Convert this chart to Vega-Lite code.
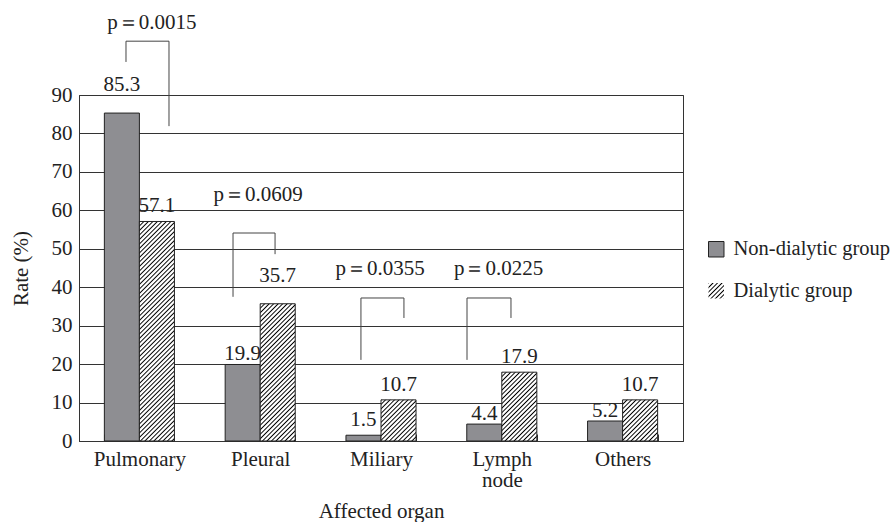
{
"$schema":"https://vega.github.io/schema/vega-lite/v6.json",
"width":604,"height":346,
"autosize":"none",
"padding":{"left":79,"top":95,"right":210,"bottom":81},
"background":"white",
"config":{"font":"Liberation Serif, Times New Roman, serif","view":{"stroke":"#333","strokeWidth":1},
 "axis":{"labelFont":"Liberation Serif, Times New Roman, serif","labelFontSize":21,"labelColor":"#222","titleFont":"Liberation Serif, Times New Roman, serif","titleFontSize":21,"titleFontWeight":"normal","titleColor":"#222","domainColor":"#333","tickColor":"#333"},
 "axisY":{"tickCount":10,"ticks":false,"tickSize":0,"labelPadding":7,"grid":true,"gridColor":"#333","gridOpacity":1,"titlePadding":20},
 "legend":{"labelFont":"Liberation Serif, Times New Roman, serif","labelFontSize":20.5,"labelColor":"#222","symbolType":"square","symbolSize":240,"symbolStrokeColor":"#222","symbolStrokeWidth":1,"labelOffset":7,"labelLimit":300,"orient":"none"}},
"datasets":{
 "rates":[
  {"organ":"Pulmonary","group":"Non-dialytic group","rate":85.3},
  {"organ":"Pulmonary","group":"Dialytic group","rate":57.1},
  {"organ":"Pleural","group":"Non-dialytic group","rate":19.9},
  {"organ":"Pleural","group":"Dialytic group","rate":35.7},
  {"organ":"Miliary","group":"Non-dialytic group","rate":1.5},
  {"organ":"Miliary","group":"Dialytic group","rate":10.7},
  {"organ":"Lymph node","group":"Non-dialytic group","rate":4.4},
  {"organ":"Lymph node","group":"Dialytic group","rate":17.9},
  {"organ":"Others","group":"Non-dialytic group","rate":5.2},
  {"organ":"Others","group":"Dialytic group","rate":10.7}
 ],
 "tests":[
  {"organ":"Pulmonary","p":"p＝0.0015","xl":0.389,"xr":0.745,"xp":0.604,"yl":98.6,"ytop":104.0,"yr":81.9,"yp":107.2},
  {"organ":"Pleural","p":"p＝0.0609","xl":1.275,"xr":1.623,"xp":1.482,"yl":37.5,"ytop":54.1,"yr":48.6,"yp":62.4},
  {"organ":"Miliary","p":"p＝0.0355","xl":2.334,"xr":2.69,"xp":2.492,"yl":21.1,"ytop":37.2,"yr":32.0,"yp":43.2},
  {"organ":"Lymph node","p":"p＝0.0225","xl":3.212,"xr":3.576,"xp":3.473,"yl":21.1,"ytop":37.2,"yr":32.0,"yp":43.2}
 ]
},
"resolve":{"scale":{"x":"independent"}},
"layer":[
 {
  "data":{"name":"rates"},
  "encoding":{
   "x":{"field":"organ","type":"nominal","scale":{"domain":["Pulmonary","Pleural","Miliary","Lymph node","Others"],"paddingInner":0.42,"paddingOuter":0.21},
        "axis":{"title":"Affected organ","labelExpr":"datum.value == 'Lymph node' ? ['Lymph','node'] : datum.label","labelAngle":0,"labelPadding":14,"labelLineHeight":21,"tickBand":"extent","tickSize":-7,"grid":false,"titlePadding":10}},
   "xOffset":{"field":"group","type":"nominal","scale":{"domain":["Non-dialytic group","Dialytic group"],"paddingInner":0,"paddingOuter":0}},
   "y":{"field":"rate","type":"quantitative","scale":{"domain":[0,90],"nice":false},
        "axis":{"title":"Rate (%)","values":[0,10,20,30,40,50,60,70,80,90]}}
  },
  "layer":[
   {"transform":[{"filter":"datum.group === 'Non-dialytic group'"}],
    "mark":{"type":"bar","stroke":"#222","strokeWidth":1},
    "encoding":{"fill":{"field":"group","type":"nominal","scale":{"domain":["Non-dialytic group"],"range":["#8e8e92"]},
     "legend":{"title":null,"orient":"none","legendX":627,"legendY":144}}}},
   {"transform":[{"filter":"datum.group === 'Dialytic group'"}],
    "mark":{"type":"bar","stroke":"#222","strokeWidth":1},
    "encoding":{
     "opacity":{"field":"group","type":"nominal","scale":{"domain":["Dialytic group"],"range":[1]},
       "legend":{"title":null,"orient":"none","legendX":627,"legendY":185.5,"symbolStrokeColor":"#222","symbolStrokeWidth":1}},
     "fill":{"condition":[
     {"test":"datum.organ === 'Pulmonary'","value":{"gradient":"linear","x1":0,"y1":0,"x2":0.3187,"y2":1.9991,"stops":[
{"offset":0,"color":"#000"},{"offset":0.003,"color":"#fff"},{"offset":0.007,"color":"#fff"},
{"offset":0.01,"color":"#000"},{"offset":0.013,"color":"#fff"},{"offset":0.017,"color":"#fff"},
{"offset":0.02,"color":"#000"},{"offset":0.023,"color":"#fff"},{"offset":0.027,"color":"#fff"},
{"offset":0.03,"color":"#000"},{"offset":0.033,"color":"#fff"},{"offset":0.037,"color":"#fff"},
{"offset":0.04,"color":"#000"},{"offset":0.043,"color":"#fff"},{"offset":0.047,"color":"#fff"},
{"offset":0.05,"color":"#000"},{"offset":0.053,"color":"#fff"},{"offset":0.057,"color":"#fff"},
{"offset":0.06,"color":"#000"},{"offset":0.063,"color":"#fff"},{"offset":0.067,"color":"#fff"},
{"offset":0.07,"color":"#000"},{"offset":0.073,"color":"#fff"},{"offset":0.077,"color":"#fff"},
{"offset":0.08,"color":"#000"},{"offset":0.083,"color":"#fff"},{"offset":0.087,"color":"#fff"},
{"offset":0.09,"color":"#000"},{"offset":0.093,"color":"#fff"},{"offset":0.097,"color":"#fff"},
{"offset":0.1,"color":"#000"},{"offset":0.103,"color":"#fff"},{"offset":0.107,"color":"#fff"},
{"offset":0.11,"color":"#000"},{"offset":0.113,"color":"#fff"},{"offset":0.117,"color":"#fff"},
{"offset":0.12,"color":"#000"},{"offset":0.123,"color":"#fff"},{"offset":0.127,"color":"#fff"},
{"offset":0.13,"color":"#000"},{"offset":0.133,"color":"#fff"},{"offset":0.137,"color":"#fff"},
{"offset":0.14,"color":"#000"},{"offset":0.143,"color":"#fff"},{"offset":0.147,"color":"#fff"},
{"offset":0.15,"color":"#000"},{"offset":0.153,"color":"#fff"},{"offset":0.157,"color":"#fff"},
{"offset":0.16,"color":"#000"},{"offset":0.163,"color":"#fff"},{"offset":0.167,"color":"#fff"},
{"offset":0.17,"color":"#000"},{"offset":0.173,"color":"#fff"},{"offset":0.177,"color":"#fff"},
{"offset":0.18,"color":"#000"},{"offset":0.183,"color":"#fff"},{"offset":0.187,"color":"#fff"},
{"offset":0.19,"color":"#000"},{"offset":0.193,"color":"#fff"},{"offset":0.197,"color":"#fff"},
{"offset":0.2,"color":"#000"},{"offset":0.203,"color":"#fff"},{"offset":0.207,"color":"#fff"},
{"offset":0.21,"color":"#000"},{"offset":0.213,"color":"#fff"},{"offset":0.217,"color":"#fff"},
{"offset":0.22,"color":"#000"},{"offset":0.223,"color":"#fff"},{"offset":0.227,"color":"#fff"},
{"offset":0.23,"color":"#000"},{"offset":0.233,"color":"#fff"},{"offset":0.237,"color":"#fff"},
{"offset":0.24,"color":"#000"},{"offset":0.243,"color":"#fff"},{"offset":0.247,"color":"#fff"},
{"offset":0.25,"color":"#000"},{"offset":0.253,"color":"#fff"},{"offset":0.257,"color":"#fff"},
{"offset":0.26,"color":"#000"},{"offset":0.263,"color":"#fff"},{"offset":0.267,"color":"#fff"},
{"offset":0.27,"color":"#000"},{"offset":0.273,"color":"#fff"},{"offset":0.277,"color":"#fff"},
{"offset":0.28,"color":"#000"},{"offset":0.283,"color":"#fff"},{"offset":0.287,"color":"#fff"},
{"offset":0.29,"color":"#000"},{"offset":0.293,"color":"#fff"},{"offset":0.297,"color":"#fff"},
{"offset":0.3,"color":"#000"},{"offset":0.303,"color":"#fff"},{"offset":0.307,"color":"#fff"},
{"offset":0.31,"color":"#000"},{"offset":0.313,"color":"#fff"},{"offset":0.317,"color":"#fff"},
{"offset":0.32,"color":"#000"},{"offset":0.323,"color":"#fff"},{"offset":0.327,"color":"#fff"},
{"offset":0.33,"color":"#000"},{"offset":0.333,"color":"#fff"},{"offset":0.337,"color":"#fff"},
{"offset":0.34,"color":"#000"},{"offset":0.343,"color":"#fff"},{"offset":0.347,"color":"#fff"},
{"offset":0.35,"color":"#000"},{"offset":0.353,"color":"#fff"},{"offset":0.357,"color":"#fff"},
{"offset":0.36,"color":"#000"},{"offset":0.363,"color":"#fff"},{"offset":0.367,"color":"#fff"},
{"offset":0.37,"color":"#000"},{"offset":0.373,"color":"#fff"},{"offset":0.377,"color":"#fff"},
{"offset":0.38,"color":"#000"},{"offset":0.383,"color":"#fff"},{"offset":0.387,"color":"#fff"},
{"offset":0.39,"color":"#000"},{"offset":0.393,"color":"#fff"},{"offset":0.397,"color":"#fff"},
{"offset":0.4,"color":"#000"},{"offset":0.403,"color":"#fff"},{"offset":0.407,"color":"#fff"},
{"offset":0.41,"color":"#000"},{"offset":0.413,"color":"#fff"},{"offset":0.417,"color":"#fff"},
{"offset":0.42,"color":"#000"},{"offset":0.423,"color":"#fff"},{"offset":0.427,"color":"#fff"},
{"offset":0.43,"color":"#000"},{"offset":0.433,"color":"#fff"},{"offset":0.437,"color":"#fff"},
{"offset":0.44,"color":"#000"},{"offset":0.443,"color":"#fff"},{"offset":0.447,"color":"#fff"},
{"offset":0.45,"color":"#000"},{"offset":0.453,"color":"#fff"},{"offset":0.457,"color":"#fff"},
{"offset":0.46,"color":"#000"},{"offset":0.463,"color":"#fff"},{"offset":0.467,"color":"#fff"},
{"offset":0.47,"color":"#000"},{"offset":0.473,"color":"#fff"},{"offset":0.477,"color":"#fff"},
{"offset":0.48,"color":"#000"},{"offset":0.483,"color":"#fff"},{"offset":0.487,"color":"#fff"},
{"offset":0.49,"color":"#000"},{"offset":0.493,"color":"#fff"},{"offset":0.497,"color":"#fff"},
{"offset":0.5,"color":"#000"},{"offset":0.503,"color":"#fff"},{"offset":0.507,"color":"#fff"},
{"offset":0.51,"color":"#000"},{"offset":0.513,"color":"#fff"},{"offset":0.517,"color":"#fff"},
{"offset":0.52,"color":"#000"},{"offset":0.523,"color":"#fff"},{"offset":0.527,"color":"#fff"},
{"offset":0.53,"color":"#000"},{"offset":0.533,"color":"#fff"},{"offset":0.537,"color":"#fff"},
{"offset":0.54,"color":"#000"},{"offset":0.543,"color":"#fff"},{"offset":0.547,"color":"#fff"},
{"offset":0.55,"color":"#000"},{"offset":0.553,"color":"#fff"},{"offset":0.557,"color":"#fff"},
{"offset":0.56,"color":"#000"},{"offset":0.563,"color":"#fff"},{"offset":0.567,"color":"#fff"},
{"offset":0.57,"color":"#000"}]}},
     {"test":"datum.organ === 'Pleural'","value":{"gradient":"linear","x1":0,"y1":0,"x2":0.785,"y2":3.0785,"stops":[
{"offset":0,"color":"#000"},{"offset":0.003,"color":"#fff"},{"offset":0.007,"color":"#fff"},
{"offset":0.01,"color":"#000"},{"offset":0.013,"color":"#fff"},{"offset":0.017,"color":"#fff"},
{"offset":0.02,"color":"#000"},{"offset":0.023,"color":"#fff"},{"offset":0.027,"color":"#fff"},
{"offset":0.03,"color":"#000"},{"offset":0.033,"color":"#fff"},{"offset":0.037,"color":"#fff"},
{"offset":0.04,"color":"#000"},{"offset":0.043,"color":"#fff"},{"offset":0.047,"color":"#fff"},
{"offset":0.05,"color":"#000"},{"offset":0.053,"color":"#fff"},{"offset":0.057,"color":"#fff"},
{"offset":0.06,"color":"#000"},{"offset":0.063,"color":"#fff"},{"offset":0.067,"color":"#fff"},
{"offset":0.07,"color":"#000"},{"offset":0.073,"color":"#fff"},{"offset":0.077,"color":"#fff"},
{"offset":0.08,"color":"#000"},{"offset":0.083,"color":"#fff"},{"offset":0.087,"color":"#fff"},
{"offset":0.09,"color":"#000"},{"offset":0.093,"color":"#fff"},{"offset":0.097,"color":"#fff"},
{"offset":0.1,"color":"#000"},{"offset":0.103,"color":"#fff"},{"offset":0.107,"color":"#fff"},
{"offset":0.11,"color":"#000"},{"offset":0.113,"color":"#fff"},{"offset":0.117,"color":"#fff"},
{"offset":0.12,"color":"#000"},{"offset":0.123,"color":"#fff"},{"offset":0.127,"color":"#fff"},
{"offset":0.13,"color":"#000"},{"offset":0.133,"color":"#fff"},{"offset":0.137,"color":"#fff"},
{"offset":0.14,"color":"#000"},{"offset":0.143,"color":"#fff"},{"offset":0.147,"color":"#fff"},
{"offset":0.15,"color":"#000"},{"offset":0.153,"color":"#fff"},{"offset":0.157,"color":"#fff"},
{"offset":0.16,"color":"#000"},{"offset":0.163,"color":"#fff"},{"offset":0.167,"color":"#fff"},
{"offset":0.17,"color":"#000"},{"offset":0.173,"color":"#fff"},{"offset":0.177,"color":"#fff"},
{"offset":0.18,"color":"#000"},{"offset":0.183,"color":"#fff"},{"offset":0.187,"color":"#fff"},
{"offset":0.19,"color":"#000"},{"offset":0.193,"color":"#fff"},{"offset":0.197,"color":"#fff"},
{"offset":0.2,"color":"#000"},{"offset":0.203,"color":"#fff"},{"offset":0.207,"color":"#fff"},
{"offset":0.21,"color":"#000"},{"offset":0.213,"color":"#fff"},{"offset":0.217,"color":"#fff"},
{"offset":0.22,"color":"#000"},{"offset":0.223,"color":"#fff"},{"offset":0.227,"color":"#fff"},
{"offset":0.23,"color":"#000"},{"offset":0.233,"color":"#fff"},{"offset":0.237,"color":"#fff"},
{"offset":0.24,"color":"#000"},{"offset":0.243,"color":"#fff"},{"offset":0.247,"color":"#fff"},
{"offset":0.25,"color":"#000"},{"offset":0.253,"color":"#fff"},{"offset":0.257,"color":"#fff"},
{"offset":0.26,"color":"#000"},{"offset":0.263,"color":"#fff"},{"offset":0.267,"color":"#fff"},
{"offset":0.27,"color":"#000"},{"offset":0.273,"color":"#fff"},{"offset":0.277,"color":"#fff"},
{"offset":0.28,"color":"#000"},{"offset":0.283,"color":"#fff"},{"offset":0.287,"color":"#fff"},
{"offset":0.29,"color":"#000"},{"offset":0.293,"color":"#fff"},{"offset":0.297,"color":"#fff"},
{"offset":0.3,"color":"#000"},{"offset":0.303,"color":"#fff"},{"offset":0.307,"color":"#fff"},
{"offset":0.31,"color":"#000"},{"offset":0.313,"color":"#fff"},{"offset":0.317,"color":"#fff"},
{"offset":0.32,"color":"#000"},{"offset":0.323,"color":"#fff"},{"offset":0.327,"color":"#fff"},
{"offset":0.33,"color":"#000"},{"offset":0.333,"color":"#fff"},{"offset":0.337,"color":"#fff"},
{"offset":0.34,"color":"#000"},{"offset":0.343,"color":"#fff"},{"offset":0.347,"color":"#fff"},
{"offset":0.35,"color":"#000"},{"offset":0.353,"color":"#fff"},{"offset":0.357,"color":"#fff"},
{"offset":0.36,"color":"#000"},{"offset":0.363,"color":"#fff"},{"offset":0.367,"color":"#fff"},
{"offset":0.37,"color":"#000"},{"offset":0.373,"color":"#fff"},{"offset":0.377,"color":"#fff"},
{"offset":0.38,"color":"#000"},{"offset":0.383,"color":"#fff"},{"offset":0.387,"color":"#fff"},
{"offset":0.39,"color":"#000"}]}},
     {"test":"datum.organ === 'Lymph node'","value":{"gradient":"linear","x1":0,"y1":0,"x2":2.6424,"y2":5.1953,"stops":[
{"offset":0,"color":"#000"},{"offset":0.003,"color":"#fff"},{"offset":0.007,"color":"#fff"},
{"offset":0.01,"color":"#000"},{"offset":0.013,"color":"#fff"},{"offset":0.017,"color":"#fff"},
{"offset":0.02,"color":"#000"},{"offset":0.023,"color":"#fff"},{"offset":0.027,"color":"#fff"},
{"offset":0.03,"color":"#000"},{"offset":0.033,"color":"#fff"},{"offset":0.037,"color":"#fff"},
{"offset":0.04,"color":"#000"},{"offset":0.043,"color":"#fff"},{"offset":0.047,"color":"#fff"},
{"offset":0.05,"color":"#000"},{"offset":0.053,"color":"#fff"},{"offset":0.057,"color":"#fff"},
{"offset":0.06,"color":"#000"},{"offset":0.063,"color":"#fff"},{"offset":0.067,"color":"#fff"},
{"offset":0.07,"color":"#000"},{"offset":0.073,"color":"#fff"},{"offset":0.077,"color":"#fff"},
{"offset":0.08,"color":"#000"},{"offset":0.083,"color":"#fff"},{"offset":0.087,"color":"#fff"},
{"offset":0.09,"color":"#000"},{"offset":0.093,"color":"#fff"},{"offset":0.097,"color":"#fff"},
{"offset":0.1,"color":"#000"},{"offset":0.103,"color":"#fff"},{"offset":0.107,"color":"#fff"},
{"offset":0.11,"color":"#000"},{"offset":0.113,"color":"#fff"},{"offset":0.117,"color":"#fff"},
{"offset":0.12,"color":"#000"},{"offset":0.123,"color":"#fff"},{"offset":0.127,"color":"#fff"},
{"offset":0.13,"color":"#000"},{"offset":0.133,"color":"#fff"},{"offset":0.137,"color":"#fff"},
{"offset":0.14,"color":"#000"},{"offset":0.143,"color":"#fff"},{"offset":0.147,"color":"#fff"},
{"offset":0.15,"color":"#000"},{"offset":0.153,"color":"#fff"},{"offset":0.157,"color":"#fff"},
{"offset":0.16,"color":"#000"},{"offset":0.163,"color":"#fff"},{"offset":0.167,"color":"#fff"},
{"offset":0.17,"color":"#000"},{"offset":0.173,"color":"#fff"},{"offset":0.177,"color":"#fff"},
{"offset":0.18,"color":"#000"},{"offset":0.183,"color":"#fff"},{"offset":0.187,"color":"#fff"},
{"offset":0.19,"color":"#000"},{"offset":0.193,"color":"#fff"},{"offset":0.197,"color":"#fff"},
{"offset":0.2,"color":"#000"},{"offset":0.203,"color":"#fff"},{"offset":0.207,"color":"#fff"},
{"offset":0.21,"color":"#000"},{"offset":0.213,"color":"#fff"},{"offset":0.217,"color":"#fff"},
{"offset":0.22,"color":"#000"},{"offset":0.223,"color":"#fff"},{"offset":0.227,"color":"#fff"},
{"offset":0.23,"color":"#000"},{"offset":0.233,"color":"#fff"},{"offset":0.237,"color":"#fff"},
{"offset":0.24,"color":"#000"}]}},
     {"test":"datum.organ === 'Miliary' || datum.organ === 'Others'","value":{"gradient":"linear","x1":0,"y1":0,"x2":5.3992,"y2":6.3456,"stops":[
{"offset":0,"color":"#000"},{"offset":0.003,"color":"#fff"},{"offset":0.007,"color":"#fff"},
{"offset":0.01,"color":"#000"},{"offset":0.013,"color":"#fff"},{"offset":0.017,"color":"#fff"},
{"offset":0.02,"color":"#000"},{"offset":0.023,"color":"#fff"},{"offset":0.027,"color":"#fff"},
{"offset":0.03,"color":"#000"},{"offset":0.033,"color":"#fff"},{"offset":0.037,"color":"#fff"},
{"offset":0.04,"color":"#000"},{"offset":0.043,"color":"#fff"},{"offset":0.047,"color":"#fff"},
{"offset":0.05,"color":"#000"},{"offset":0.053,"color":"#fff"},{"offset":0.057,"color":"#fff"},
{"offset":0.06,"color":"#000"},{"offset":0.063,"color":"#fff"},{"offset":0.067,"color":"#fff"},
{"offset":0.07,"color":"#000"},{"offset":0.073,"color":"#fff"},{"offset":0.077,"color":"#fff"},
{"offset":0.08,"color":"#000"},{"offset":0.083,"color":"#fff"},{"offset":0.087,"color":"#fff"},
{"offset":0.09,"color":"#000"},{"offset":0.093,"color":"#fff"},{"offset":0.097,"color":"#fff"},
{"offset":0.1,"color":"#000"},{"offset":0.103,"color":"#fff"},{"offset":0.107,"color":"#fff"},
{"offset":0.11,"color":"#000"},{"offset":0.113,"color":"#fff"},{"offset":0.117,"color":"#fff"},
{"offset":0.12,"color":"#000"},{"offset":0.123,"color":"#fff"},{"offset":0.127,"color":"#fff"},
{"offset":0.13,"color":"#000"},{"offset":0.133,"color":"#fff"},{"offset":0.137,"color":"#fff"},
{"offset":0.14,"color":"#000"},{"offset":0.143,"color":"#fff"},{"offset":0.147,"color":"#fff"},
{"offset":0.15,"color":"#000"},{"offset":0.153,"color":"#fff"},{"offset":0.157,"color":"#fff"},
{"offset":0.16,"color":"#000"},{"offset":0.163,"color":"#fff"},{"offset":0.167,"color":"#fff"},
{"offset":0.17,"color":"#000"},{"offset":0.173,"color":"#fff"},{"offset":0.177,"color":"#fff"},
{"offset":0.18,"color":"#000"}]}}],
     "value":{"gradient":"linear","x1":0,"y1":0,"x2":14.53,"y2":14.53,"stops":[
{"offset":0,"color":"#000"},{"offset":0.003,"color":"#fff"},{"offset":0.007,"color":"#fff"},
{"offset":0.01,"color":"#000"},{"offset":0.013,"color":"#fff"},{"offset":0.017,"color":"#fff"},
{"offset":0.02,"color":"#000"},{"offset":0.023,"color":"#fff"},{"offset":0.027,"color":"#fff"},
{"offset":0.03,"color":"#000"},{"offset":0.033,"color":"#fff"},{"offset":0.037,"color":"#fff"},
{"offset":0.04,"color":"#000"},{"offset":0.043,"color":"#fff"},{"offset":0.047,"color":"#fff"},
{"offset":0.05,"color":"#000"},{"offset":0.053,"color":"#fff"},{"offset":0.057,"color":"#fff"},
{"offset":0.06,"color":"#000"},{"offset":0.063,"color":"#fff"},{"offset":0.067,"color":"#fff"},
{"offset":0.07,"color":"#000"}]}}}},
   {"transform":[{"filter":{"field":"rate","oneOf":[85.3,35.7]}}],
    "mark":{"type":"text","baseline":"alphabetic","dy":-22,"fontSize":21,"color":"#222"},
    "encoding":{"text":{"field":"rate","type":"quantitative","format":".1f"}}},
   {"transform":[{"filter":{"field":"rate","oneOf":[57.1,10.7,17.9,1.5]}}],
    "mark":{"type":"text","baseline":"alphabetic","dy":-9,"fontSize":21,"color":"#222"},
    "encoding":{"text":{"field":"rate","type":"quantitative","format":".1f"}}},
   {"transform":[{"filter":{"field":"rate","oneOf":[19.9,4.4,5.2]}}],
    "mark":{"type":"text","baseline":"alphabetic","dy":-4,"fontSize":21,"color":"#222"},
    "encoding":{"text":{"field":"rate","type":"quantitative","format":".1f"}}}
  ]
 },
 {
  "data":{"name":"tests"},
  "layer":[
   {"mark":{"type":"rule","color":"#444","strokeWidth":1},
    "encoding":{"x":{"field":"xl","type":"quantitative","scale":{"domain":[0,5],"nice":false,"zero":false},"axis":null},
                "y":{"field":"yl","type":"quantitative","scale":{"domain":[0,90],"nice":false}},
                "y2":{"field":"ytop"}}},
   {"mark":{"type":"rule","color":"#444","strokeWidth":1},
    "encoding":{"x":{"field":"xl","type":"quantitative","scale":{"domain":[0,5],"nice":false,"zero":false},"axis":null},
                "x2":{"field":"xr"},
                "y":{"field":"ytop","type":"quantitative","scale":{"domain":[0,90],"nice":false}}}},
   {"mark":{"type":"rule","color":"#444","strokeWidth":1},
    "encoding":{"x":{"field":"xr","type":"quantitative","scale":{"domain":[0,5],"nice":false,"zero":false},"axis":null},
                "y":{"field":"ytop","type":"quantitative","scale":{"domain":[0,90],"nice":false}},
                "y2":{"field":"yr"}}},
   {"mark":{"type":"text","baseline":"alphabetic","align":"center","fontSize":21,"color":"#222"},
    "encoding":{"x":{"field":"xp","type":"quantitative","scale":{"domain":[0,5],"nice":false,"zero":false},"axis":null},
                "y":{"field":"yp","type":"quantitative","scale":{"domain":[0,90],"nice":false}},
                "text":{"field":"p","type":"nominal"}}}
  ]
 }
]
}
